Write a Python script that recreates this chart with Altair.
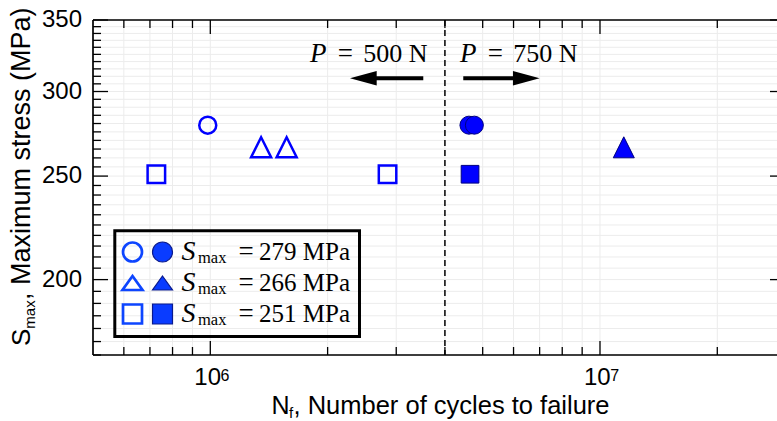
import altair as alt
import pandas as pd

# ---------------- data ----------------
S_LEVELS = [279, 266, 251]                 # S_max (MPa)
N_500N_279 = [9.85e5]                      # P = 500 N (open markers)
N_500N_266 = [1.35e6, 1.57e6]
N_500N_251 = [7.27e5, 2.85e6]
N_750N_279 = [4.61e6, 4.76e6]              # P = 750 N (filled markers)
N_750N_266 = [1.151e7]
N_750N_251 = [4.64e6]

X_DOMAIN = [5e5, 2.846e7]
Y_DOMAIN = [170, 350]
X_MAJOR = [1e6, 1e7]
X_MINOR = [6e5, 7e5, 8e5, 9e5, 2e6, 3e6, 4e6, 5e6, 6e6, 7e6, 8e6, 9e6, 2e7]
Y_MAJOR = [200, 250, 300, 350]
Y_MINOR = [v for v in range(170, 351, 5) if v % 50]
Y_TICK_LABELS = ["200", "250", "300", "350"]
X_TICK_BASE = ["10", "10"]
X_TICK_EXP = ["6", "7"]
LOAD_SPLIT_N = [4e6]

ANNOT_P_N = [1.803e6, 4.372e6]
ANNOT_EQ_N = [2.221e6, 5.386e6]
ANNOT_VAL_N = [2.47e6, 5.99e6]
ANNOT_VAL_TXT = ["500 N", "750 N"]
ANNOT_S = [320, 320]
ARROW_S = [308.7, 308.7]
ARROW_TAIL_N = [3.52e6, 4.458e6]
ARROW_HEAD_N = [2.47e6, 6.47e6]
LEGEND_VALUES = ["279", "266", "251"]

# ---------------- layout ----------------
W, H = 684, 335
PAD = {"left": 93, "top": 20, "right": 0, "bottom": 66}
BLUE = "#0000ff"
EDGE = "#000080"
LBLUE = "#0d45ff"
GRID = "#ececec"
SANS = "Liberation Sans"
SERIF = "Liberation Serif"
TRI = "M0,-1L1,1L-1,1Z"
TRI_L = "M0,-0.7L1,0.7L-1,0.7Z"
one = alt.Data(values=[{}])

x_scale = alt.Scale(type="log", domain=X_DOMAIN, nice=False)
y_scale = alt.Scale(type="log", domain=Y_DOMAIN, nice=False)


def X(field="N"):
    return alt.X(f"{field}:Q", scale=x_scale, axis=None)


def Y(field="S"):
    return alt.Y(f"{field}:Q", scale=y_scale, axis=None)


# ---------------- grid ----------------
grid = [
    alt.Chart(pd.DataFrame({"N": X_MINOR + X_MAJOR})).mark_rule(color=GRID, strokeWidth=1).encode(
        x=X(), y=alt.value(0), y2=alt.value(H)),
    alt.Chart(pd.DataFrame({"S": Y_MINOR + Y_MAJOR})).mark_rule(color=GRID, strokeWidth=1).encode(
        y=Y(), x=alt.value(0), x2=alt.value(W)),
]

split = alt.Chart(pd.DataFrame({"N": LOAD_SPLIT_N})).mark_rule(
    color="black", strokeWidth=1.5, strokeDash=[6, 4]
).encode(x=X(), y=alt.value(0), y2=alt.value(H))

# ---------------- arrows + annotations ----------------
arrows_df = pd.DataFrame({"N": ARROW_TAIL_N, "N2": ARROW_HEAD_N, "S": ARROW_S})
shafts = alt.Chart(arrows_df).mark_rule(color="black", strokeWidth=4).encode(
    x=X(), x2="N2:Q", y=Y())
head_paths = ["M-1,0L1,-0.55L1,0.55Z", "M1,0L-1,-0.55L-1,0.55Z"]
heads = [
    alt.Chart(arrows_df.iloc[[i]]).mark_point(filled=True, color="black", opacity=1,
                                              size=713, shape=head_paths[i]).encode(x=X("N2"), y=Y())
    for i in range(2)
]

ann = pd.DataFrame({"NP": ANNOT_P_N, "NE": ANNOT_EQ_N, "N": ANNOT_VAL_N,
                    "S": ANNOT_S, "t": ANNOT_VAL_TXT})
ann_layers = [
    alt.Chart(ann).mark_text(text="P", font=SERIF, fontStyle="italic", fontSize=27,
                             align="left", baseline="alphabetic", color="black").encode(x=X("NP"), y=Y()),
    alt.Chart(ann).mark_text(text="=", font=SERIF, fontSize=27,
                             align="center", baseline="alphabetic", color="black").encode(x=X("NE"), y=Y()),
    alt.Chart(ann).mark_text(font=SERIF, fontSize=26, align="left",
                             baseline="alphabetic", color="black").encode(x=X(), y=Y(), text="t:N"),
]

# ---------------- data markers ----------------
open_groups = [N_500N_279, N_500N_266, N_500N_251]
filled_groups = [N_750N_279, N_750N_266, N_750N_251]
shapes = ["circle", TRI, "square"]
open_sizes = [289, 400, 306]
filled_sizes = [324, 441, 313]
marker_layers = []
for i, s in enumerate(S_LEVELS):
    dfo = pd.DataFrame({"N": open_groups[i], "S": [s] * len(open_groups[i])})
    dff = pd.DataFrame({"N": filled_groups[i], "S": [s] * len(filled_groups[i])})
    marker_layers.append(alt.Chart(dfo).mark_point(
        shape=shapes[i], size=open_sizes[i], filled=False, stroke=BLUE,
        strokeWidth=2.5, opacity=1).encode(x=X(), y=Y()))
    marker_layers.append(alt.Chart(dff).mark_point(
        shape=shapes[i], size=filled_sizes[i], filled=True, fill=BLUE, stroke=EDGE,
        strokeWidth=1, opacity=1).encode(x=X(), y=Y()))

# ---------------- legend (drawn by hand) ----------------
legend_layers = [
    alt.Chart(one).mark_rect(fill="white", fillOpacity=0, stroke="black", strokeWidth=3).encode(
        x=alt.value(21.8), x2=alt.value(266.5), y=alt.value(210.8), y2=alt.value(316.5))
]
row_y = [232, 263, 294]
leg_shapes = ["circle", TRI_L, "square"]
leg_open_size = [361, 400, 361]
leg_fill_size = [400, 400, 400]
for i, lv in enumerate(LEGEND_VALUES):
    yy = row_y[i]
    legend_layers += [
        alt.Chart(one).mark_point(shape=leg_shapes[i], size=leg_open_size[i], filled=False,
                                  stroke=LBLUE, strokeWidth=2.7, opacity=1).encode(
            x=alt.value(39.5), y=alt.value(yy)),
        alt.Chart(one).mark_point(shape=leg_shapes[i], size=leg_fill_size[i], filled=True,
                                  fill="#0a3cff", stroke="#0a1a8c", strokeWidth=1.2, opacity=1).encode(
            x=alt.value(69.5), y=alt.value(yy)),
        alt.Chart(one).mark_text(text="S", font=SERIF, fontStyle="italic", fontSize=28, align="left",
                                 baseline="alphabetic", color="black").encode(
            x=alt.value(88.5), y=alt.value(yy + 8)),
        alt.Chart(one).mark_text(text="max", font=SERIF, fontSize=16.5, align="left",
                                 baseline="alphabetic", color="black").encode(
            x=alt.value(105), y=alt.value(yy + 11)),
        alt.Chart(one).mark_text(text="=", font=SERIF, fontSize=27, align="center",
                                 baseline="alphabetic", color="black").encode(
            x=alt.value(153), y=alt.value(yy + 8)),
        alt.Chart(one).mark_text(text=lv + " MPa", font=SERIF, fontSize=25, align="left",
                                 baseline="alphabetic", color="black").encode(
            x=alt.value(166), y=alt.value(yy + 8)),
    ]

# ---------------- ticks and frame ----------------
TK = dict(color="black", strokeWidth=1.3)
xmaj = pd.DataFrame({"N": X_MAJOR})
xmin = pd.DataFrame({"N": X_MINOR})
ymaj = pd.DataFrame({"S": Y_MAJOR, "lab": Y_TICK_LABELS})
ymin = pd.DataFrame({"S": Y_MINOR})
ticks = [
    alt.Chart(xmaj).mark_rule(**TK).encode(x=X(), y=alt.value(H), y2=alt.value(H - 14)),
    alt.Chart(xmin).mark_rule(**TK).encode(x=X(), y=alt.value(H), y2=alt.value(H - 8)),
    alt.Chart(xmaj).mark_rule(**TK).encode(x=X(), y=alt.value(0), y2=alt.value(14)),
    alt.Chart(xmin).mark_rule(**TK).encode(x=X(), y=alt.value(0), y2=alt.value(8)),
    alt.Chart(ymaj).mark_rule(**TK).encode(y=Y(), x=alt.value(0), x2=alt.value(15)),
    alt.Chart(ymin).mark_rule(**TK).encode(y=Y(), x=alt.value(0), x2=alt.value(8)),
    alt.Chart(ymaj).mark_rule(**TK).encode(y=Y(), x=alt.value(W - 7), x2=alt.value(W)),
]
FR = dict(color="black", strokeWidth=1.7)
frame = [
    alt.Chart(one).mark_rule(**FR).encode(x=alt.value(0), y=alt.value(0), y2=alt.value(H)),
    alt.Chart(one).mark_rule(**FR).encode(x=alt.value(0), x2=alt.value(W), y=alt.value(0)),
    alt.Chart(one).mark_rule(**FR).encode(x=alt.value(0), x2=alt.value(W), y=alt.value(H)),
]

# ---------------- tick labels ----------------
xl = pd.DataFrame({"N": X_MAJOR, "b": X_TICK_BASE, "e": X_TICK_EXP})
tick_labels = [
    alt.Chart(xl).mark_text(font=SANS, fontSize=24, align="right", baseline="alphabetic",
                            dx=10.7, color="black").encode(x=X(), y=alt.value(365), text="b:N"),
    alt.Chart(xl).mark_text(font=SANS, fontSize=16, align="left", baseline="alphabetic",
                            dx=10.2, color="black").encode(x=X(), y=alt.value(361), text="e:N"),
    alt.Chart(ymaj).mark_text(font=SANS, fontSize=24, align="right", baseline="middle",
                              color="black").encode(y=Y(), x=alt.value(-11), text="lab:N"),
]

# ---------------- axis titles (with subscripts) ----------------
titles = [
    alt.Chart(one).mark_text(text="N", font=SANS, fontSize=25, align="left",
                             baseline="alphabetic", color="black").encode(x=alt.value(178.5), y=alt.value(394)),
    alt.Chart(one).mark_text(text="f", font=SANS, fontSize=15, align="left",
                             baseline="alphabetic", color="black").encode(x=alt.value(196), y=alt.value(397.5)),
    alt.Chart(one).mark_text(text=", Number of cycles to failure", font=SANS, fontSize=25.5, align="left",
                             baseline="alphabetic", color="black").encode(x=alt.value(200.5), y=alt.value(394)),
    alt.Chart(one).mark_text(text="S", font=SANS, fontSize=26, align="left", angle=270,
                             baseline="alphabetic", color="black").encode(x=alt.value(-63.5), y=alt.value(326)),
    alt.Chart(one).mark_text(text="max", font=SANS, fontSize=15, align="left", angle=270,
                             baseline="alphabetic", color="black").encode(x=alt.value(-58), y=alt.value(308.7)),
    alt.Chart(one).mark_text(text=", Maximum stress (MPa)", font=SANS, fontSize=27, align="left", angle=270,
                             baseline="alphabetic", color="black").encode(x=alt.value(-63.5), y=alt.value(280)),
]

chart = alt.layer(
    *grid, split, shafts, *heads, *ann_layers, *marker_layers,
    *legend_layers, *ticks, *frame, *tick_labels, *titles
).properties(
    width=W, height=H, padding=PAD,
    autosize=alt.AutoSizeParams(type="none"),
    background="white",
).configure_view(strokeWidth=0)

chart.save("out.html", embed_options={"renderer": "svg", "actions": False})
